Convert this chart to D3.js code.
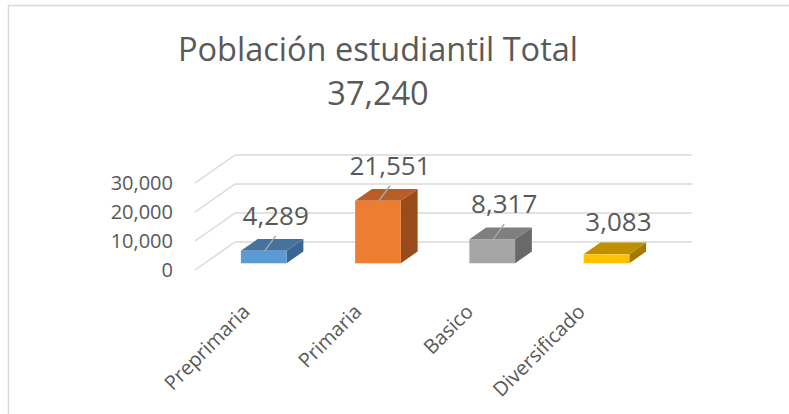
<!DOCTYPE html>
<html>
<head>
<meta charset="utf-8">
<script src="https://cdn.jsdelivr.net/npm/d3@7"></script>
<style>
  body { margin: 0; background: #fff; }
  text { font-family: "Open Sans", sans-serif; fill: #595959; }
</style>
</head>
<body>
<div class="chart"></div>
<script>
// chart data
const categories = ["Preprimaria", "Primaria", "Basico", "Diversificado"];
const values = [4289, 21551, 8317, 3083];
const yTicks = [0, 10000, 20000, 30000];
const titleLines = ["Población estudiantil Total", "37,240"];

const faceColors = ["#5B9BD5", "#ED7D31", "#A5A5A5", "#FFC000"];
const topColors = ["#44739F", "#B95D26", "#7F7F7F", "#C09000"];
const sideColors = ["#3B6690", "#9A4B1C", "#696969", "#A37900"];

const w = 789, h = 414;
// depth offsets of the 3d box (back wall vs front)
const DX = 40, DY = 28;
const z0 = 0.24, z1 = 0.66;

const svg = d3.select(".chart").append("svg")
  .attr("width", w).attr("height", h);

// chart border
svg.append("rect")
  .attr("x", 8.5).attr("y", 5.5)
  .attr("width", 800).attr("height", 420)
  .attr("fill", "none").attr("stroke", "#d9d9d9").attr("stroke-width", 1.5);

const x = d3.scaleBand().domain(categories).range([197, 654])
  .paddingInner(0.6).paddingOuter(0.3);
const y = d3.scaleLinear().domain([0, 30000]).range([270, 183]);

const floorLeft = 195, floorRight = 652;

// gridlines: diagonal on the side wall + horizontal on the back wall
const grid = svg.append("g").attr("stroke", "#d9d9d9").attr("stroke-width", 1.5).attr("fill", "none");
yTicks.forEach(t => {
  grid.append("line")
    .attr("x1", floorLeft).attr("y1", y(t))
    .attr("x2", floorLeft + DX).attr("y2", y(t) - DY);
  grid.append("line")
    .attr("x1", floorLeft + DX).attr("y1", y(t) - DY)
    .attr("x2", floorRight + DX).attr("y2", y(t) - DY);
});

// y axis labels
svg.append("g").selectAll("text").data(yTicks).enter().append("text")
  .attr("x", 173).attr("y", d => y(d))
  .attr("dy", "0.36em")
  .attr("text-anchor", "end")
  .style("font-size", "20px")
  .text(d => d3.format(",")(d));

// bars
const bdx = (z1 - z0) * DX, bdy = (z1 - z0) * DY;
const bars = svg.append("g").selectAll("g").data(values).enter().append("g");
const bx0 = (d, i) => x(categories[i]) + z0 * DX;
const bx1 = (d, i) => bx0(d, i) + x.bandwidth();
const by0 = () => y(0) - z0 * DY;
const byT = d => y(d) - z0 * DY;

bars.append("path")
  .attr("fill", (d, i) => sideColors[i])
  .attr("d", (d, i) => {
    const a = bx1(d, i);
    return `M${a},${by0()}L${a + bdx},${by0() - bdy}L${a + bdx},${byT(d) - bdy}L${a},${byT(d)}Z`;
  });
bars.append("path")
  .attr("fill", (d, i) => topColors[i])
  .attr("d", (d, i) => {
    const a = bx0(d, i), b = bx1(d, i), t = byT(d);
    return `M${a},${t}L${b},${t}L${b + bdx},${t - bdy}L${a + bdx},${t - bdy}Z`;
  });
bars.append("rect")
  .attr("fill", (d, i) => faceColors[i])
  .attr("x", bx0)
  .attr("y", byT)
  .attr("width", x.bandwidth())
  .attr("height", d => by0() - byT(d));

// leader lines
bars.filter(d => d > 4000).append("line")
  .attr("stroke", "#a6a6a6").attr("stroke-width", 1.5)
  .attr("x1", (d, i) => bx0(d, i) + x.bandwidth() / 2 + 1)
  .attr("y1", d => byT(d))
  .attr("x2", (d, i) => bx0(d, i) + x.bandwidth() / 2 + 12)
  .attr("y2", d => byT(d) - 15);

// value labels
bars.append("text")
  .attr("text-anchor", "middle")
  .style("font-size", "26px")
  .attr("x", (d, i) => bx0(d, i) + x.bandwidth() / 2 + 12)
  .attr("y", d => byT(d) - (d > 4000 ? 26 : 23))
  .text(d => d3.format(",")(d));

// category labels, rotated
svg.append("g").selectAll("text").data(categories).enter().append("text")
  .attr("text-anchor", "end")
  .style("font-size", "20px")
  .attr("transform", (d, i) => `translate(${x(d) + x.bandwidth() / 2 - 3 - i * 2.5},${313}) rotate(-45)`)
  .text(d => d);

// title
svg.append("g").selectAll("text").data(titleLines).enter().append("text")
  .attr("x", 378).attr("y", (d, i) => 61 + i * 44)
  .attr("text-anchor", "middle")
  .style("font-size", "32.5px")
  .text(d => d);
</script>
</body>
</html>
